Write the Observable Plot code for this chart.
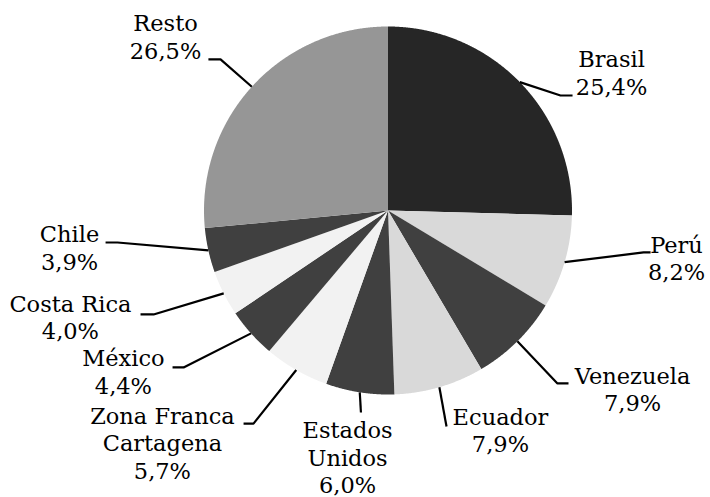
<!DOCTYPE html>
<html>
<head>
<meta charset="utf-8">
<script src="https://cdn.jsdelivr.net/npm/d3@7"></script>
<script src="https://cdn.jsdelivr.net/npm/@observablehq/plot@0.6"></script>
<style>
  html, body { margin: 0; padding: 0; background: #ffffff; }
  #chart svg { display: block; }
</style>
</head>
<body>
<div id="chart"></div>
<script>
// ---- data ----
const categories = ["Brasil", "Perú", "Venezuela", "Ecuador", "Estados Unidos",
  "Zona Franca Cartagena", "México", "Costa Rica", "Chile", "Resto"];
const shares = [25.4, 8.2, 7.9, 7.9, 6.0, 5.7, 4.4, 4.0, 3.9, 26.5];
const labelLines = ["Brasil", "Perú", "Venezuela", "Ecuador", "Estados\nUnidos",
  "Zona Franca\nCartagena", "México", "Costa Rica", "Chile", "Resto"];
const sliceColors = ["#262626", "#d9d9d9", "#404040", "#d9d9d9", "#404040",
  "#f2f2f2", "#404040", "#f2f2f2", "#404040", "#969696"];

// ---- label layout (in pie-radius units, origin at pie centre, y downward) ----
// text: centre x, baseline of last line
const labelPos = [
  [1.215, -0.630], [1.568, 0.380], [1.329, 1.092], [0.611, 1.315], [-0.220, 1.535],
  [-1.226, 1.457], [-1.438, 0.995], [-1.726, 0.701], [-1.731, 0.321], [-1.209, -0.826]
];
// leader: elbow point and end point
const leaderPos = [
  [[0.9375, -0.625], [1.003, -0.625]],
  [[1.389, 0.228], [1.427, 0.228]],
  [[0.921, 0.940], [0.981, 0.940]],
  [[0.318, 1.174], [0.318, 1.174]],
  [[-0.147, 1.098], [-0.147, 1.098]],
  [[-0.731, 1.158], [-0.785, 1.158]],
  [[-1.111, 0.853], [-1.171, 0.853]],
  [[-1.274, 0.565], [-1.345, 0.565]],
  [[-1.470, 0.174], [-1.535, 0.174]],
  [[-0.910, -0.821], [-0.976, -0.821]]
];

// ---- build geometry from the values ----
const arcs = d3.pie().sort(null).startAngle(0).endAngle(2 * Math.PI)(shares);
const slices = [];
arcs.forEach((a, i) => {
  const name = categories[i];
  slices.push({name, x: 0, y: 0});
  const steps = Math.max(2, Math.ceil((a.endAngle - a.startAngle) / 0.004));
  for (let k = 0; k <= steps; ++k) {
    const t = a.startAngle + (a.endAngle - a.startAngle) * k / steps;
    slices.push({name, x: Math.sin(t), y: -Math.cos(t)});
  }
});

const leaders = [];
const labels = [];
arcs.forEach((a, i) => {
  const name = categories[i];
  const mid = (a.startAngle + a.endAngle) / 2;
  leaders.push({name, x: Math.sin(mid), y: -Math.cos(mid)});
  leaders.push({name, x: leaderPos[i][0][0], y: leaderPos[i][0][1]});
  leaders.push({name, x: leaderPos[i][1][0], y: leaderPos[i][1][1]});
  const pct = shares[i].toFixed(1).replace(".", ",") + "%";
  labels.push({name, x: labelPos[i][0], y: labelPos[i][1], text: labelLines[i] + "\n" + pct});
});

const W = 710, H = 497, R = 184, CX = 387.5, CY = 210;

const chart = Plot.plot({
  width: W,
  height: H,
  margin: 0,
  style: {background: "#ffffff", overflow: "visible"},
  x: {domain: [-CX / R, (W - CX) / R], range: [0, W], axis: null},
  y: {domain: [-CY / R, (H - CY) / R], range: [0, H], axis: null},
  color: {domain: categories, range: sliceColors},
  marks: [
    Plot.line(slices, {x: "x", y: "y", z: "name", fill: "name", stroke: "none", curve: "linear-closed"}),
    Plot.line(leaders, {x: "x", y: "y", z: "name", stroke: "#000000", strokeWidth: 2.2, strokeLinecap: "butt", strokeLinejoin: "miter", curve: "linear"}),
    Plot.text(labels, {x: "x", y: "y", text: "text", fontSize: 22.5, fontFamily: "DejaVu Serif",
      lineAnchor: "bottom", lineHeight: 1.22, textAnchor: "middle", fill: "#000000"})
  ]
});
document.getElementById("chart").appendChild(chart);
</script>
</body>
</html>
